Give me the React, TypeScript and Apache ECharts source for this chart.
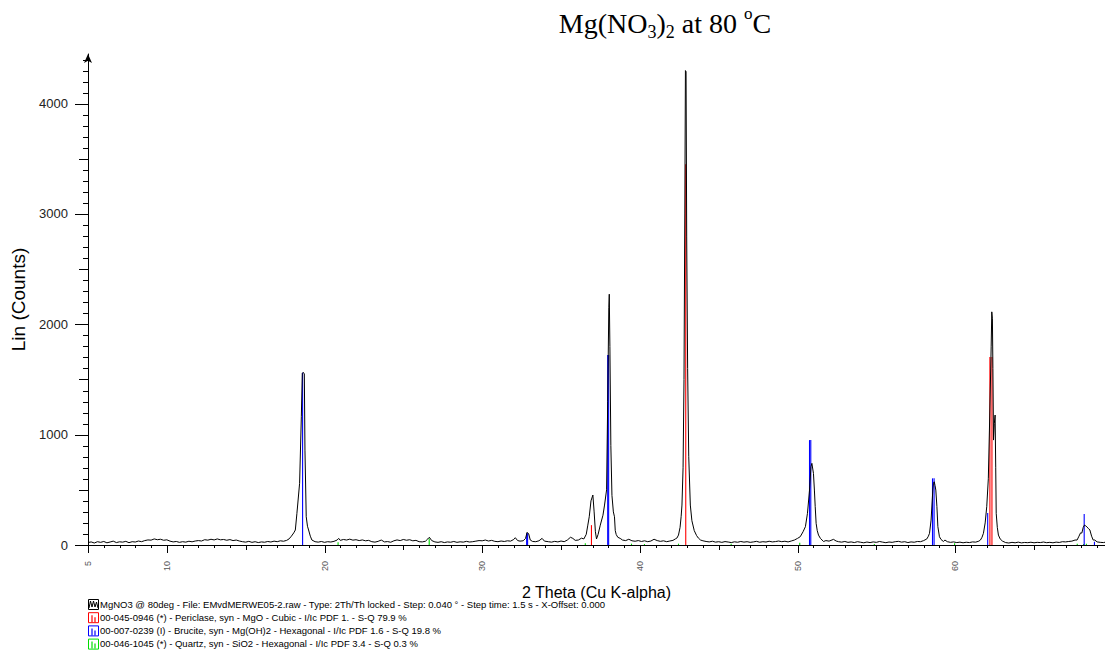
import React, { useEffect, useRef } from "react";
import * as echarts from "echarts";

// ---------- data ----------
// XRD scan: [2theta (deg), counts]
const scan: [number, number][] = [
  [5.0, 22], [5.2, 28], [5.4, 18], [5.6, 30], [5.8, 24], [6.0, 32], [6.2, 20], [6.4, 27], [6.6, 35], [6.8, 22],
  [7.0, 29], [7.2, 26], [7.4, 33], [7.6, 21], [7.8, 30], [8.0, 27], [8.2, 36], [8.4, 30], [8.6, 40], [8.8, 46],
  [9.0, 44], [9.2, 55], [9.4, 48], [9.6, 52], [9.8, 43], [10.0, 47], [10.2, 35], [10.4, 28], [10.6, 32], [10.8, 24],
  [11.0, 30], [11.2, 26], [11.4, 34], [11.6, 29], [11.8, 36], [12.0, 40], [12.2, 36], [12.4, 48], [12.6, 44], [12.8, 52],
  [13.0, 46], [13.2, 55], [13.4, 47], [13.6, 50], [13.8, 43], [14.0, 49], [14.2, 40], [14.4, 45], [14.6, 36], [14.8, 30],
  [15.0, 26], [15.2, 33], [15.4, 24], [15.6, 30], [15.8, 22], [16.0, 28], [16.2, 25], [16.4, 32], [16.6, 27], [16.8, 35],
  [17.0, 30], [17.2, 38], [17.4, 34], [17.6, 42], [17.75, 55], [17.9, 80], [18.05, 110], [18.15, 136], [18.25, 287], [18.42, 559],
  [18.53, 1162], [18.59, 1555], [18.65, 1565], [18.72, 1550], [18.76, 860], [18.84, 256], [18.92, 170], [18.99, 136], [19.1, 80], [19.2, 45],
  [19.4, 30], [19.6, 26], [19.8, 32], [20.0, 24], [20.2, 30], [20.4, 27], [20.6, 33], [20.8, 45], [20.9, 60], [21.0, 42],
  [21.2, 50], [21.4, 45], [21.6, 53], [21.8, 44], [22.0, 48], [22.2, 40], [22.4, 46], [22.6, 38], [22.8, 42], [23.0, 30],
  [23.2, 26], [23.4, 33], [23.6, 45], [23.8, 28], [24.0, 31], [24.2, 25], [24.4, 38], [24.6, 46], [24.8, 40], [25.0, 50],
  [25.2, 43], [25.4, 48], [25.6, 38], [25.8, 42], [26.0, 30], [26.2, 28], [26.4, 34], [26.55, 55], [26.65, 70], [26.8, 40],
  [27.0, 28], [27.2, 24], [27.4, 30], [27.6, 22], [27.8, 28], [28.0, 25], [28.2, 32], [28.4, 24], [28.6, 29], [28.8, 26],
  [29.0, 33], [29.2, 27], [29.4, 30], [29.6, 35], [29.8, 40], [30.0, 38], [30.2, 45], [30.4, 36], [30.6, 42], [30.8, 33],
  [31.0, 30], [31.2, 36], [31.4, 32], [31.6, 38], [31.8, 35], [32.0, 50], [32.1, 66], [32.25, 40], [32.4, 35], [32.6, 38],
  [32.75, 60], [32.85, 115], [32.95, 100], [33.05, 45], [33.2, 32], [33.4, 30], [33.6, 38], [33.8, 60], [33.95, 35], [34.2, 30],
  [34.4, 26], [34.6, 33], [34.8, 28], [35.0, 36], [35.2, 30], [35.4, 45], [35.6, 70], [35.75, 60], [35.9, 42], [36.1, 45],
  [36.3, 62], [36.45, 55], [36.6, 97], [36.7, 180], [36.79, 256], [36.9, 400], [37.02, 453], [37.1, 300], [37.18, 120], [37.25, 55],
  [37.35, 95], [37.49, 180], [37.66, 270], [37.76, 362], [37.89, 500], [37.96, 1300], [38.03, 2150], [38.06, 2273], [38.1, 1800], [38.16, 900],
  [38.23, 450], [38.32, 300], [38.39, 256], [38.44, 130], [38.5, 95], [38.6, 70], [38.75, 60], [38.9, 45], [39.1, 40], [39.3, 52],
  [39.5, 38], [39.7, 34], [39.9, 40], [40.1, 32], [40.3, 38], [40.5, 30], [40.7, 36], [40.9, 52], [41.1, 40], [41.3, 33],
  [41.5, 38], [41.7, 30], [41.9, 36], [42.1, 42], [42.25, 55], [42.35, 63], [42.45, 90], [42.55, 160], [42.62, 260], [42.67, 362],
  [42.74, 700], [42.8, 1500], [42.85, 3000], [42.89, 4300], [42.93, 4290], [42.97, 2800], [43.03, 1600], [43.1, 800], [43.2, 362], [43.3, 220],
  [43.45, 130], [43.6, 85], [43.71, 63], [43.85, 45], [44.0, 38], [44.2, 32], [44.4, 28], [44.6, 34], [44.8, 26], [45.0, 30],
  [45.2, 24], [45.4, 31], [45.6, 27], [45.8, 22], [46.0, 29], [46.2, 25], [46.4, 32], [46.6, 26], [46.8, 30], [47.0, 24],
  [47.2, 28], [47.4, 33], [47.6, 25], [47.8, 30], [48.0, 27], [48.2, 34], [48.4, 28], [48.6, 31], [48.8, 36], [49.0, 30],
  [49.2, 34], [49.4, 28], [49.6, 36], [49.8, 45], [50.0, 60], [50.17, 75], [50.35, 120], [50.5, 166], [50.63, 287], [50.76, 498],
  [50.85, 709], [50.91, 740], [51.01, 649], [51.07, 498], [51.12, 350], [51.18, 196], [51.25, 130], [51.33, 90], [51.45, 60], [51.65, 32],
  [51.8, 40], [52.0, 35], [52.28, 51], [52.45, 36], [52.6, 30], [52.8, 26], [53.0, 32], [53.2, 24], [53.4, 28], [53.6, 22],
  [53.8, 30], [54.0, 25], [54.2, 20], [54.4, 27], [54.6, 22], [54.8, 28], [55.0, 24], [55.2, 32], [55.4, 26], [55.6, 21],
  [55.8, 27], [56.0, 24], [56.2, 30], [56.4, 33], [56.6, 26], [56.8, 30], [57.0, 22], [57.2, 28], [57.4, 25], [57.6, 32],
  [57.8, 30], [58.0, 40], [58.2, 55], [58.3, 80], [58.37, 106], [58.47, 226], [58.58, 498], [58.62, 560], [58.67, 573], [58.72, 540],
  [58.77, 498], [58.84, 347], [58.9, 166], [59.0, 75], [59.1, 50], [59.25, 32], [59.35, 45], [59.5, 30], [59.7, 24], [59.9, 28],
  [60.1, 22], [60.3, 26], [60.5, 20], [60.7, 25], [60.9, 22], [61.1, 28], [61.3, 26], [61.5, 35], [61.6, 45], [61.7, 70],
  [61.79, 106], [61.9, 200], [62.0, 347], [62.1, 600], [62.17, 1042], [62.23, 1450], [62.28, 1796], [62.32, 2113], [62.36, 2050], [62.39, 1600],
  [62.43, 951], [62.48, 1100], [62.53, 1178], [62.57, 700], [62.6, 287], [62.67, 160], [62.74, 90], [62.85, 55], [63.0, 35], [63.2, 22],
  [63.4, 18], [63.6, 24], [63.8, 20], [64.0, 26], [64.2, 19], [64.4, 23], [64.6, 21], [64.8, 25], [65.0, 20], [65.2, 24],
  [65.4, 22], [65.6, 27], [65.8, 21], [66.0, 24], [66.2, 20], [66.4, 26], [66.6, 23], [66.8, 30], [67.0, 28], [67.2, 32],
  [67.4, 35], [67.6, 45], [67.73, 45], [67.85, 80], [67.95, 110], [68.03, 108], [68.12, 160], [68.2, 181], [68.27, 175], [68.35, 163],
  [68.45, 150], [68.54, 136], [68.65, 80], [68.75, 45], [68.85, 45], [69.0, 28], [69.2, 24], [69.4, 22], [69.5, 25],
];

// Reference patterns (stick positions and heights)
const periclaseSticks: [number, number][] = [[36.93, 180], [42.91, 3450], [62.2, 1703], [62.33, 1703]];
const bruciteSticks: [number, number][] = [
  [18.61, 1560], [32.82, 106], [32.88, 106], [37.96, 1721], [38.02, 1721], [50.76, 951], [50.84, 951],
  [58.56, 604], [58.66, 604], [62.06, 290], [68.18, 281], [68.83, 30],
];
const quartzSticks: [number, number][] = [
  [20.86, 25], [26.64, 60], [36.54, 15], [39.47, 12], [40.29, 10], [42.45, 12], [45.79, 12], [50.14, 20],
  [54.87, 10], [59.96, 15], [67.74, 12], [68.14, 10], [68.32, 12],
];

// Axis ticks / labels
const xLabelValues = [5, 10, 20, 30, 40, 50, 60];
const xMidTicks = [15, 25, 35, 45, 55, 65];
const xMinorTicks = [5, 6, 7, 8, 9, 10, 11, 12, 13, 14, 15, 16, 17, 18, 19, 20, 21, 22, 23, 24, 25, 26, 27, 28, 29, 30, 31, 32, 33, 34, 35, 36, 37, 38, 39, 40, 41, 42, 43, 44, 45, 46, 47, 48, 49, 50, 51, 52, 53, 54, 55, 56, 57, 58, 59, 60, 61, 62, 63, 64, 65, 66, 67, 68, 69];
const yLabelValues = [0, 1000, 2000, 3000, 4000];
const yMidTicks = [500, 1500, 2500, 3500];
const yMinorTicks = [0, 100, 200, 300, 400, 500, 600, 700, 800, 900, 1000, 1100, 1200, 1300, 1400, 1500, 1600, 1700, 1800, 1900, 2000, 2100, 2200, 2300, 2400, 2500, 2600, 2700, 2800, 2900, 3000, 3100, 3200, 3300, 3400, 3500, 3600, 3700, 3800, 3900, 4000, 4100, 4200, 4300, 4400];

const legendRows = [
  { color: "#000000", kind: "scan", text: "MgNO3 @ 80deg - File: EMvdMERWE05-2.raw - Type: 2Th/Th locked - Step: 0.040 ° - Step time: 1.5 s - X-Offset: 0.000" },
  { color: "#ff0000", kind: "stick", text: "00-045-0946 (*) - Periclase, syn - MgO - Cubic - I/Ic PDF 1. - S-Q 79.9 %" },
  { color: "#0000ff", kind: "stick", text: "00-007-0239 (I) - Brucite, syn - Mg(OH)2 - Hexagonal - I/Ic PDF 1.6 - S-Q 19.8 %" },
  { color: "#00dd00", kind: "stick", text: "00-046-1045 (*) - Quartz, syn - SiO2 - Hexagonal - I/Ic PDF 3.4 - S-Q 0.3 %" },
];

const SANS = '"Liberation Sans", Arial, sans-serif';
const SERIF = '"Liberation Serif", "Times New Roman", serif';
const X_MIN = 5;
const X_MAX = 69.5;
const Y_MAX = 4450;

function stickSeries(name: string, data: [number, number][], color: string) {
  return {
    name,
    type: "custom",
    z: 1,
    data,
    encode: { x: 0, y: 1 },
    renderItem: (_params: any, api: any) => {
      const x = api.value(0);
      const h = api.value(1);
      const p0 = api.coord([x, 0]);
      const p1 = api.coord([x, h]);
      return {
        type: "line",
        shape: { x1: p0[0], y1: p0[1], x2: p1[0], y2: p1[1] },
        style: { stroke: color, lineWidth: 1.1 },
      };
    },
  };
}

function buildStaticGraphics(): any[] {
  const out: any[] = [
    {
      type: "text",
      x: 665,
      y: 23,
      style: {
        text: "{m|Mg(NO}{s|3}{m|)}{s|2}{m| at 80 }{p|o}{m|C}",
        align: "center",
        verticalAlign: "middle",
        rich: {
          m: { fontFamily: SERIF, fontSize: 28, lineHeight: 36, fill: "#000", verticalAlign: "middle" },
          s: { fontFamily: SERIF, fontSize: 18, lineHeight: 18, fill: "#000", verticalAlign: "bottom" },
          p: { fontFamily: SERIF, fontSize: 17, lineHeight: 17, fill: "#000", verticalAlign: "top" },
        },
      },
    },
  ];
  legendRows.forEach((row, i) => {
    const cy = 604 + i * 13.2;
    const top = cy - 5;
    out.push({
      type: "rect",
      shape: { x: 88.5, y: top + 0.5, width: 10, height: 10 },
      style: { fill: "none", stroke: row.color, lineWidth: 1 },
    });
    if (row.kind === "scan") {
      out.push({
        type: "polyline",
        shape: { points: [[89, top + 9], [90.5, top + 2], [92, top + 8], [93.5, top + 2], [95, top + 8], [96.5, top + 3], [98, top + 9]] },
        style: { fill: "none", stroke: row.color, lineWidth: 1 },
      });
    } else {
      out.push({
        type: "line",
        shape: { x1: 92, y1: top + 3, x2: 92, y2: top + 10 },
        style: { stroke: row.color, lineWidth: 1.2 },
      });
      out.push({
        type: "line",
        shape: { x1: 95, y1: top + 5, x2: 95, y2: top + 10 },
        style: { stroke: row.color, lineWidth: 1.2 },
      });
    }
    out.push({
      type: "text",
      x: 100,
      y: cy,
      style: { text: row.text, fontFamily: SANS, fontSize: 9.5, fill: "#000", align: "left", verticalAlign: "middle" },
    });
  });
  return out;
}

export default function App() {
  const ref = useRef<HTMLDivElement>(null);
  useEffect(() => {
    if (!ref.current) return;
    const chart = echarts.init(ref.current, undefined, { renderer: "svg" });

    const option: any = {
      animation: false,
      backgroundColor: "#ffffff",
      grid: { left: 88, right: 0, top: 54, bottom: 105, containLabel: false, outerBoundsMode: "none" },
      xAxis: {
        type: "value",
        min: X_MIN,
        max: X_MAX,
        position: "bottom",
        axisLine: { show: true, onZero: false, lineStyle: { color: "#000", width: 1 } },
        axisTick: { show: false },
        axisLabel: {
          customValues: xLabelValues,
          rotate: 90,
          margin: 16,
          fontSize: 9,
          color: "#555",
          fontFamily: SANS,
          formatter: (v: number) => String(v),
        },
        splitLine: { show: false },
        name: "2 Theta (Cu K-alpha)",
        nameLocation: "middle",
        nameGap: 39,
        nameTextStyle: { fontSize: 16, color: "#000", fontFamily: SANS },
      },
      yAxis: {
        type: "value",
        min: 0,
        max: Y_MAX,
        position: "left",
        axisLine: { show: true, onZero: false, symbol: ["none", "arrow"], symbolSize: [6, 9], lineStyle: { color: "#000", width: 1 } },
        axisTick: { show: false },
        axisLabel: {
          customValues: yLabelValues,
          margin: 20,
          fontSize: 13,
          color: "#222",
          fontFamily: SANS,
          formatter: (v: number) => String(v),
        },
        splitLine: { show: false },
        name: "Lin (Counts)",
        nameLocation: "middle",
        nameGap: 48,
        nameRotate: 90,
        nameTextStyle: { fontSize: 19, color: "#000", fontFamily: SANS },
      },
      series: [
        stickSeries("Quartz", quartzSticks, "#00dd00"),
        stickSeries("Periclase", periclaseSticks, "#ff0000"),
        stickSeries("Brucite", bruciteSticks, "#0000ff"),
        {
          name: "MgNO3 @ 80deg",
          type: "line",
          z: 3,
          data: scan,
          showSymbol: false,
          symbol: "none",
          lineStyle: { color: "#000", width: 1 },
        },
      ],
      graphic: buildStaticGraphics(),
    };
    chart.setOption(option);

    // tick marks, positioned through the axes' own scales
    const tickLines: any[] = [];
    const y0 = chart.convertToPixel({ yAxisIndex: 0 }, 0) as number;
    const x0 = chart.convertToPixel({ xAxisIndex: 0 }, X_MIN) as number;
    const addX = (vals: number[], len: number) =>
      vals.forEach((v) => {
        const px = Math.round(chart.convertToPixel({ xAxisIndex: 0 }, v) as number) + 0.5;
        tickLines.push({ type: "line", z: 10, shape: { x1: px, y1: y0, x2: px, y2: y0 + len }, style: { stroke: "#000", lineWidth: 1 } });
      });
    const addY = (vals: number[], len: number) =>
      vals.forEach((v) => {
        const py = Math.round(chart.convertToPixel({ yAxisIndex: 0 }, v) as number) + 0.5;
        tickLines.push({ type: "line", z: 10, shape: { x1: x0 - len, y1: py, x2: x0, y2: py }, style: { stroke: "#000", lineWidth: 1 } });
      });
    addX(xMinorTicks, 3);
    addX(xMidTicks, 5);
    addX(xLabelValues, 8);
    addY(yMinorTicks, 5);
    addY(yMidTicks, 9);
    addY(yLabelValues, 13);
    chart.setOption({ graphic: [...buildStaticGraphics(), ...tickLines] });

    return () => chart.dispose();
  }, []);
  return (
    <div
      ref={ref}
      style={{ position: "fixed", left: 0, top: 0, width: 1105, height: 650, background: "#fff" }}
    />
  );
}
